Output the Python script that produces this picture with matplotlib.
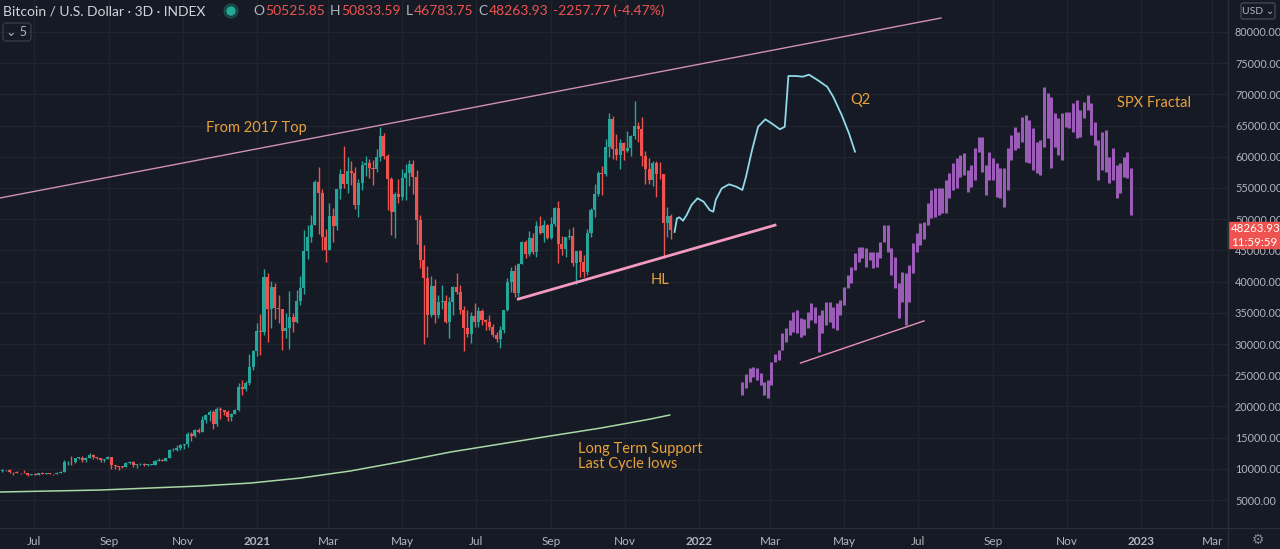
import numpy as np
import matplotlib
matplotlib.use("Agg")
import matplotlib.pyplot as plt
import matplotlib.dates as mdates
from matplotlib.patches import Circle, Rectangle, FancyBboxPatch
from matplotlib.lines import Line2D
from matplotlib.transforms import IdentityTransform

# ---------------- data ----------------
# Bitcoin 3D candles, first candle starts 2020-06-01, one candle every 3 days
btc_first = "2020-06-01"
btc_open0 = 9450
btc_close = [
    9660, 9760, 9790, 9470, 9450, 9390, 9300, 9290, 9010, 9140,
    9060, 9340, 9230, 9300, 9190, 9150, 9390, 9530, 11030, 11110,
    11070, 11740, 11750, 11410, 11770, 12280, 11860, 11660, 11470, 11510,
    11970, 10540, 10370, 10360, 10330, 10950, 11090, 10540, 10690, 10690,
    10620, 10670, 10670, 11300, 11430, 11320, 11740, 12970, 13030, 13270,
    13800, 14020, 15580, 15330, 16280, 15960, 17800, 18680, 19160, 17140,
    19630, 19450, 19150, 18320, 18810, 19440, 23140, 22750, 23730, 26280,
    28840, 32130, 31970, 40800, 35540, 39160, 35790, 35550, 32100, 32570,
    34320, 33540, 36930, 38900, 44920, 47180, 49150, 55890, 54210, 47070,
    45140, 50540, 48880, 54880, 57230, 55640, 57650, 57350, 52300, 55860,
    58730, 59000, 58200, 58090, 59900, 63310, 60050, 56470, 51090, 54000,
    53560, 56630, 57420, 58800, 56700, 49880, 43540, 40550, 34700, 39290,
    34610, 36690, 36870, 33550, 36690, 39100, 38350, 35480, 32510, 31590,
    34490, 33570, 35300, 33860, 33520, 32700, 31420, 30820, 32310, 35400,
    40000, 41630, 38150, 42820, 46290, 44430, 47050, 44800, 48900, 47710,
    49070, 47050, 49290, 51770, 46070, 45160, 47090, 47260, 43010, 44880,
    43210, 41520, 47710, 51510, 53970, 57470, 57320, 61530, 66000, 61300,
    60330, 62250, 61000, 61450, 63330, 64980, 64470, 60160, 58120, 56300,
    58960, 57270, 57230, 49400, 50525.85, 48263.93,
]
btc_high = [
    10400, 9900, 9850, 9990, 9500, 9580, 9400, 9780, 9330, 9220,
    9290, 9370, 9450, 9320, 9340, 9200, 9420, 9650, 11400, 11300,
    12100, 11790, 11900, 12080, 11900, 12460, 12400, 11900, 11800, 11600,
    12090, 11970, 10570, 10480, 10480, 11100, 11180, 11180, 10800, 10950,
    10900, 10700, 10800, 11480, 11720, 11550, 11800, 13200, 13350, 13860,
    13970, 14050, 15960, 15830, 16350, 16480, 18480, 18800, 19420, 19400,
    19860, 19900, 19500, 19400, 18950, 19570, 23800, 24300, 24100, 28400,
    29020, 33300, 34800, 41950, 41400, 40100, 39700, 37850, 35600, 34900,
    38500, 34900, 38700, 40950, 48200, 49000, 50600, 56300, 58300, 54800,
    48400, 52600, 51800, 54900, 58000, 61800, 60000, 59400, 58400, 56500,
    59400, 60200, 59600, 59500, 61200, 64850, 63800, 60500, 56800, 54300,
    56400, 58000, 58900, 59500, 59500, 57900, 50600, 45800, 42500, 40900,
    40400, 37900, 39400, 37900, 37500, 39300, 41300, 39500, 36100, 35500,
    35200, 36600, 35900, 35600, 34000, 34600, 33200, 31950, 32900, 35500,
    40600, 42300, 42600, 43000, 46450, 46700, 48100, 47800, 49700, 50500,
    49800, 49300, 50400, 51900, 52900, 47300, 47200, 48500, 48800, 44900,
    45000, 44300, 48400, 51800, 55700, 57800, 58500, 62900, 67000, 66600,
    63700, 62900, 62400, 64200, 63500, 69000, 65600, 66300, 61000, 59800,
    59300, 59300, 59100, 57300, 51900, 50833.59,
]
btc_low = [
    9280, 9470, 9580, 9250, 8950, 9300, 9220, 9250, 8830, 8950,
    9040, 9050, 9200, 9130, 9120, 9050, 9100, 9300, 9450, 10600,
    10650, 11000, 11500, 11150, 11150, 11700, 11600, 11520, 11130, 11170,
    11500, 9950, 9900, 9880, 10200, 10300, 10780, 10360, 10180, 10630,
    10500, 10380, 10530, 10650, 11250, 11220, 11220, 11680, 12880, 12900,
    13000, 13240, 13540, 14380, 15100, 15800, 15900, 17350, 17700, 16330,
    16900, 18000, 18600, 17600, 17600, 18800, 19300, 21850, 22400, 23400,
    25900, 28100, 28200, 31400, 30400, 32500, 34000, 33400, 29000, 31000,
    29200, 32000, 33400, 36200, 38000, 43700, 46300, 49000, 47600, 45000,
    43100, 45100, 46400, 48300, 53200, 55000, 54200, 55500, 51600, 50400,
    54700, 57000, 56600, 55500, 57500, 59400, 59600, 51500, 47500, 47000,
    52600, 53100, 53100, 55300, 54000, 46000, 42200, 30000, 31200, 34400,
    33400, 34200, 35600, 33400, 31000, 34600, 38000, 34800, 28800, 31200,
    30100, 32800, 32700, 33100, 32200, 32300, 31200, 30400, 29300, 31800,
    35300, 38400, 37600, 37500, 42800, 43800, 44100, 44400, 43900, 47600,
    46400, 46900, 46800, 48900, 43000, 44200, 44000, 46800, 42500, 39600,
    40800, 40800, 41000, 47100, 50400, 53700, 53900, 57000, 59900, 59700,
    59500, 58000, 59500, 60700, 60200, 62800, 62300, 58600, 55700, 55600,
    55400, 53500, 56500, 43800, 47100, 46783.75,
]

# SPX fractal overlay (3D bars from 2022-02-06)
spx_first = "2022-02-06"
spx_high = [
    23900, 25200, 26200, 26300, 26200, 25400, 23900, 24200, 27100, 28400,
    29000, 31800, 32600, 33800, 35100, 35400, 34200, 34000, 35100, 36600,
    35900, 34600, 35400, 36700, 36700, 35900, 36600, 37100, 39100, 41100,
    42300, 44600, 45500, 45500, 45400, 44700, 44700, 44700, 46300, 49100,
    49100, 45400, 43900, 39800, 41500, 41400, 42700, 46200, 47800, 49400,
    49600, 52600, 54700, 55000, 55000, 55000, 56300, 57400, 59000, 59800,
    60300, 60600, 57900, 58700, 61400, 63200, 63200, 58700, 60800, 59800,
    59000, 58200, 58200, 61400, 63500, 64800, 64000, 66400, 66700, 65900,
    64600, 62400, 62700, 71200, 70200, 69600, 67000, 66200, 67000, 67200,
    67200, 68600, 69100, 67500, 68800, 69900, 68600, 65600, 62700, 64000,
    64300, 60000, 61400, 58700, 59000, 60000, 60800, 58200,
]
spx_low = [
    21800, 22900, 23900, 24700, 24200, 23400, 21800, 21300, 23400, 27100,
    27400, 29000, 30300, 31400, 31900, 31800, 31100, 31400, 32600, 33800,
    33400, 28700, 31800, 33000, 33500, 32600, 32200, 34600, 36200, 39000,
    39800, 41900, 43100, 43800, 42300, 43500, 42200, 42300, 43800, 46300,
    44700, 41100, 39000, 34200, 36700, 33000, 36700, 41400, 44700, 45900,
    46800, 49100, 50200, 50400, 50700, 51000, 51000, 53400, 54700, 55000,
    56800, 57100, 54400, 55200, 56300, 60800, 57600, 53900, 56300, 56300,
    53600, 53400, 52000, 54700, 59500, 61100, 61400, 62400, 59200, 59000,
    57900, 57400, 57100, 61600, 63000, 58200, 61600, 60300, 59500, 64800,
    64600, 64000, 63000, 63200, 66200, 67500, 63500, 61900, 56300, 57900,
    57600, 55800, 56300, 53400, 54200, 56800, 56600, 50700,
]

# hand-drawn Q2 projection path
q2_dates = [
    "2021-12-12", "2021-12-14", "2021-12-16", "2021-12-19", "2021-12-22",
    "2021-12-26", "2021-12-31", "2022-01-05", "2022-01-10", "2022-01-13",
    "2022-01-15", "2022-01-20", "2022-01-26", "2022-02-01", "2022-02-06",
    "2022-02-09", "2022-02-14", "2022-02-19", "2022-02-25", "2022-03-02",
    "2022-03-09", "2022-03-13", "2022-03-15", "2022-03-16", "2022-03-22",
    "2022-03-28", "2022-04-02", "2022-04-09", "2022-04-17", "2022-04-22",
    "2022-04-29", "2022-05-05", "2022-05-10",
]
q2_values = [
    47950, 50140, 50300, 49760, 50670, 52280, 53350, 52800, 51470, 51200,
    53080, 54950, 55590, 55210, 54680, 56810, 61090, 64820, 66010, 65370,
    64410, 64820, 70180, 72950, 72950, 72840, 73160, 72310, 71230, 69630,
    66700, 63770, 60820,
]

# long term support curve
support_dates = [
    "2020-06-03", "2020-08-25", "2020-11-15", "2020-12-27", "2021-02-06",
    "2021-03-19", "2021-04-29", "2021-06-10", "2021-07-21", "2021-08-31",
    "2021-10-12", "2021-11-22", "2021-12-08",
]
support_values = [6280, 6600, 7240, 7720, 8520, 9640, 11090, 12690, 13970,
                  15250, 16530, 17970, 18620]

# trend lines
top_line_dates = ["2020-06-03", "2022-07-20"]
top_line_values = [53400, 82240]
hl_line_dates = ["2021-08-05", "2022-03-05"]
hl_line_values = [37200, 49050]
spx_line_dates = ["2022-03-26", "2022-07-06"]
spx_line_values = [26950, 33700]

price_ticks = list(range(5000, 80001, 5000))
month_ticks = ["2020-07-01", "2020-09-01", "2020-11-01", "2021-01-01", "2021-03-01",
               "2021-05-01", "2021-07-01", "2021-09-01", "2021-11-01", "2022-01-01",
               "2022-03-01", "2022-05-01", "2022-07-01", "2022-09-01", "2022-11-01",
               "2023-01-01", "2023-03-01"]
month_labels = ["Jul", "Sep", "Nov", "2021", "Mar", "May", "Jul", "Sep", "Nov",
                "2022", "Mar", "May", "Jul", "Sep", "Nov", "2023", "Mar"]

# ---------------- style ----------------
BG = "#161a25"
GRID = "#20242f"
AXIS_TXT = "#b2b5be"
UP = "#26a69a"
DOWN = "#ef5350"
NOTE = "#e9a23b"
FONT = ["Lato", "DejaVu Sans"]
W, H = 1280, 549


def d(s):
    return mdates.date2num(np.datetime64(s))


def px(x, y):
    """figure fraction from a pixel position (top-left origin)"""
    return x / W, 1 - y / H


fig = plt.figure(figsize=(W / 100, H / 100), dpi=100)
fig.patch.set_facecolor(BG)
ax = fig.add_axes([0, 21 / H, 1228 / W, 528 / H])
ax.set_facecolor(BG)

# candles
n = len(btc_close)
cx = mdates.date2num(np.datetime64(btc_first) + np.arange(n) * np.timedelta64(3, "D")) + 1.0
c = np.array(btc_close, float)
o = np.r_[btc_open0, c[:-1]]
hi = np.maximum(np.array(btc_high, float), np.maximum(o, c))
lo = np.minimum(np.array(btc_low, float), np.minimum(o, c))
col = np.where(c >= o, UP, DOWN)
ax.vlines(cx, lo, hi, colors=col, lw=1, zorder=3)
ax.bar(cx, np.maximum(np.abs(c - o), 90), bottom=np.minimum(o, c), width=2.5,
       color=col, linewidth=0, zorder=4)

# SPX fractal bars
m = len(spx_high)
sx = mdates.date2num(np.datetime64(spx_first) + np.arange(m) * np.timedelta64(3, "D"))
ax.vlines(sx, spx_low, spx_high, colors="#9a5cb6", lw=2.2, zorder=3)

# lines
ax.plot([d(s) for s in support_dates], support_values, color="#a9d8a6", lw=1.1, zorder=2)
ax.plot([d(s) for s in top_line_dates], top_line_values, color="#cf8fb3", lw=1.0, zorder=2)
ax.plot([d(s) for s in hl_line_dates], hl_line_values, color="#f49ac1", lw=2.0, zorder=5)
ax.plot([d(s) for s in spx_line_dates], spx_line_values, color="#e893ba", lw=1.0, zorder=5)
ax.plot([d(s) for s in q2_dates], q2_values, color="#8fd9e8", lw=1.3, zorder=5,
        solid_joinstyle="round")

# notes
note_kw = dict(color=NOTE, fontsize=10.5, family=FONT, va="center", ha="left", zorder=6)
ax.text(d("2020-11-20"), 64600, "From 2017 Top", **note_kw)
ax.text(d("2022-05-06"), 69100, "Q2", **note_kw)
ax.text(d("2021-11-22"), 40300, "HL", **note_kw)
ax.text(d("2022-12-12"), 68600, "SPX Fractal", **note_kw)
ax.text(d("2021-09-23"), 13200, "Long Term Support", **note_kw)
ax.text(d("2021-09-23"), 10800, "Last Cycle lows", **note_kw)

# axes
ax.set_xlim(d("2020-06-03"), d("2023-03-14"))
ax.set_ylim(513, 85128)
ax.yaxis.tick_right()
ax.set_yticks(price_ticks)
ax.set_yticklabels([f"{v:.2f}" for v in price_ticks])
ax.set_xticks([d(s) for s in month_ticks])
ax.set_xticklabels(month_labels)
for lab in ax.get_xticklabels():
    if lab.get_text().isdigit():
        lab.set_fontweight("bold")
ax.tick_params(length=0, colors=AXIS_TXT, labelsize=8.5)
ax.tick_params(axis="y", pad=5, labelsize=7.8)
ax.tick_params(axis="x", pad=6)
for lab in ax.get_xticklabels() + ax.get_yticklabels():
    lab.set_family(FONT)
for sp in ax.spines.values():
    sp.set_visible(False)
ax.grid(True, color=GRID, lw=1, zorder=0)
ax.set_axisbelow(True)

# separators of the price / time scales
fig.add_artist(Line2D([1228 / W, 1228 / W], [0, 1], color="#2a2e39", lw=1))
fig.add_artist(Line2D([0, 1], [21 / H, 21 / H], color="#2a2e39", lw=1))

# header
hdr = dict(fontsize=10, family=FONT, va="center")
fig.text(*px(3, 11), "Bitcoin / U.S. Dollar · 3D · INDEX", color="#d1d4dc", **hdr)
fig.add_artist(Circle((231, H - 11), 7, color="#22ab94", alpha=0.25, transform=IdentityTransform()))
fig.add_artist(Circle((231, H - 11), 4, color="#22ab94", transform=IdentityTransform()))

ohlc = [("O", AXIS_TXT), ("50525.85", DOWN), ("H", AXIS_TXT), ("50833.59", DOWN),
        ("L", AXIS_TXT), ("46783.75", DOWN), ("C", AXIS_TXT), ("48263.93", DOWN),
        ("-2257.77 (-4.47%)", DOWN)]
last = fig.text(*px(253, 11), ohlc[0][0], color=ohlc[0][1], **hdr)
for s, clr in ohlc[1:]:
    gap = 3.5 if s[0] in "HLC-" else 0.8
    last = ax.annotate(s, xy=(1, 0.5), xycoords=last, xytext=(gap, 0),
                       textcoords="offset points", color=clr, ha="left",
                       annotation_clip=False, **hdr)

fig.add_artist(FancyBboxPatch((3, H - 41), 28, 18, boxstyle="round,pad=0,rounding_size=3",
                              ec="#363a45", fc="none", lw=1, transform=IdentityTransform()))
fig.text(*px(17, 32), "⌄ 5", color=AXIS_TXT, fontsize=9, family=FONT, ha="center", va="center")

# USD button
fig.add_artist(FancyBboxPatch((1241, H - 19), 34, 16, boxstyle="round,pad=0,rounding_size=2",
                              ec="#434651", fc="none", lw=1, transform=IdentityTransform()))
fig.text(*px(1258, 11), "USD ⌄", color=AXIS_TXT, fontsize=7.5, family=FONT, ha="center", va="center")

# last price label
fig.add_artist(Rectangle((1228, H - 248), 52, 26, color=DOWN, transform=IdentityTransform()))
fig.text(*px(1231, 229), "48263.93", color="white", fontsize=8.3, family=FONT, va="center")
fig.text(*px(1231, 242), "11:59:59", color="white", fontsize=8.3, family=FONT, va="center")

fig.text(*px(1258, 540), "⚙", color="#868993", fontsize=10, family=["DejaVu Sans"],
         ha="center", va="center")

fig.savefig("out.png", dpi=100, facecolor=BG)
